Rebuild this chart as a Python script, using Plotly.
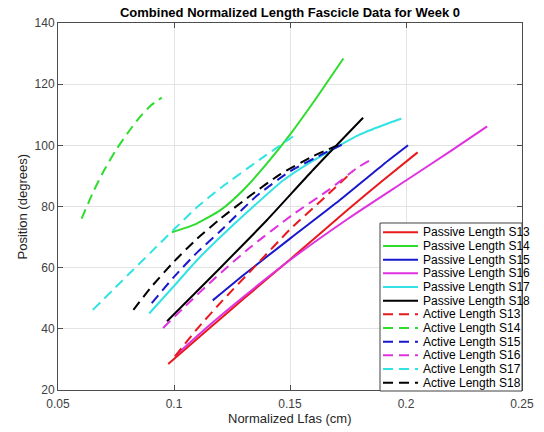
import plotly.graph_objects as go

# ---- data ----
series_names = ["Passive Length S13", "Passive Length S14", "Passive Length S15",
                "Passive Length S16", "Passive Length S17", "Passive Length S18",
                "Active Length S13", "Active Length S14", "Active Length S15",
                "Active Length S16", "Active Length S17", "Active Length S18"]

p13_x = [0.0975, 0.115, 0.13, 0.15, 0.175, 0.19, 0.205]
p13_y = [28.5, 40, 49.8, 62.7, 79, 88.5, 97.7]
p14_x = [0.0991, 0.105, 0.11, 0.12, 0.13, 0.14, 0.15, 0.16, 0.173]
p14_y = [71.6, 73, 74.5, 78.8, 85.5, 94, 103.5, 114, 128.4]
p15_x = [0.1167, 0.13, 0.15, 0.17, 0.19, 0.2009]
p15_y = [49.3, 57.6, 69.5, 81.2, 93.6, 100]
p16_x = [0.101, 0.115, 0.13, 0.15, 0.175, 0.2, 0.22, 0.235]
p16_y = [31.5, 41, 50.5, 62.5, 76, 88.5, 98.5, 106.2]
p17_x = [0.0893, 0.1, 0.11, 0.12, 0.1328, 0.147, 0.16, 0.18, 0.193, 0.198]
p17_y = [45, 54, 62.5, 70, 79, 88.5, 95, 103.5, 107.4, 108.7]
p18_x = [0.097, 0.12, 0.14, 0.16, 0.1815]
p18_y = [42.5, 60, 75.5, 92, 109]

a13_x = [0.1004, 0.11, 0.12, 0.135, 0.15, 0.165, 0.177]
a13_y = [31, 40, 48.5, 60.5, 72.5, 83, 91.5]
a14_x = [0.0602, 0.065, 0.07, 0.075, 0.08, 0.085, 0.09, 0.0947]
a14_y = [76, 84.5, 92, 98.5, 104, 109, 113, 115.6]
a15_x = [0.0904, 0.1, 0.11, 0.12, 0.1357, 0.15, 0.165, 0.1745]
a15_y = [48.4, 57, 65, 72, 83.5, 91.5, 97.5, 101]
a16_x = [0.0953, 0.105, 0.1168, 0.1328, 0.1513, 0.167, 0.1793, 0.1848]
a16_y = [40.3, 47.5, 56, 66.6, 77.4, 85.6, 92.8, 95.2]
a17_x = [0.065, 0.08, 0.09, 0.0997, 0.11, 0.12, 0.1371, 0.1536]
a17_y = [46.2, 57.5, 65, 72.3, 79.8, 86, 95.4, 104.1]
a18_x = [0.0825, 0.09, 0.1, 0.11, 0.12, 0.1328, 0.1457, 0.16, 0.173]
a18_y = [46.2, 53.5, 62, 69.5, 76, 83.5, 90.5, 96.5, 100.8]

xs = [p13_x, p14_x, p15_x, p16_x, p17_x, p18_x, a13_x, a14_x, a15_x, a16_x, a17_x, a18_x]
ys = [p13_y, p14_y, p15_y, p16_y, p17_y, p18_y, a13_y, a14_y, a15_y, a16_y, a17_y, a18_y]

x_ticks = [0.05, 0.1, 0.15, 0.2, 0.25]
x_tick_labels = ["0.05", "0.1", "0.15", "0.2", "0.25"]
y_ticks = [20, 40, 60, 80, 100, 120, 140]

title_text = "Combined Normalized Length Fascicle Data for Week 0"
x_title = "Normalized Lfas (cm)"
y_title = "Position (degrees)"

# ---- styles ----
base_colors = ["#E8191C", "#2EDC2E", "#1818CC", "#E031E0", "#33E3E3", "#000000"]
colors = base_colors + base_colors
DASH = "10px,6px"
dashes = ["solid"] * 6 + [DASH] * 6
FONT = "Liberation Sans, Arial, sans-serif"

fig = go.Figure()
for name, x, y, c, d in zip(series_names, xs, ys, colors, dashes):
    fig.add_trace(go.Scatter(x=x, y=y, mode="lines", name=name, showlegend=False,
                             line=dict(color=c, width=2, dash=d, shape="spline", smoothing=0.6)))

W, H = 544, 432
L, R, T, B = 58, 22, 23, 42
PW, PH = W - L - R, H - T - B

def px2paper_x(px):
    return (px - L) / PW

def px2paper_y(py):
    return (H - B - py) / PH

shapes = []
annotations = []
# legend box
shapes.append(dict(type="rect", xref="paper", yref="paper",
                   x0=px2paper_x(380), x1=px2paper_x(522), y0=px2paper_y(391), y1=px2paper_y(223),
                   line=dict(color="#404040", width=1), fillcolor="white", layer="above"))
for i, (name, c, d) in enumerate(zip(series_names, colors, dashes)):
    cy = 232.3 + i * 13.67
    shapes.append(dict(type="line", xref="paper", yref="paper",
                       x0=px2paper_x(383), x1=px2paper_x(418),
                       y0=px2paper_y(cy), y1=px2paper_y(cy),
                       line=dict(color=c, width=2, dash=d), layer="above"))
    annotations.append(dict(xref="paper", yref="paper", x=px2paper_x(421), y=px2paper_y(cy),
                            text=name, showarrow=False, xanchor="left", yanchor="middle",
                            font=dict(family=FONT, size=12, color="#000000")))

# axis titles
annotations.append(dict(xref="paper", yref="paper", x=0.5, y=px2paper_y(418),
                        text=x_title, showarrow=False, xanchor="center", yanchor="middle",
                        font=dict(family=FONT, size=13, color="#262626")))
annotations.append(dict(xref="paper", yref="paper", x=px2paper_x(22), y=0.5,
                        text=y_title, showarrow=False, xanchor="center", yanchor="middle",
                        textangle=-90,
                        font=dict(family=FONT, size=13, color="#262626")))

axis_common = dict(showgrid=True, gridcolor="#E3E3E3", gridwidth=1, zeroline=False,
                   showline=True, linecolor="#4D4D4D", linewidth=1, mirror="ticks",
                   ticks="inside", ticklen=5, tickcolor="#4D4D4D", automargin=False,
                   tickfont=dict(family=FONT, size=12, color="#404040"))

fig.update_layout(
    width=W, height=H,
    margin=dict(l=L, r=R, t=T, b=B),
    paper_bgcolor="white", plot_bgcolor="white",
    title=dict(text="<b>" + title_text + "</b>",
               x=0.5, xref="paper", y=1 - 12 / H, yref="container", yanchor="middle",
               font=dict(family=FONT, size=13, color="#000000")),
    xaxis=dict(range=[0.05, 0.25], tickvals=x_ticks, ticktext=x_tick_labels,
               ticklabelstandoff=3, **axis_common),
    yaxis=dict(range=[20, 140], tickvals=y_ticks, **axis_common),
    shapes=shapes, annotations=annotations,
    showlegend=False,
)

fig.write_html("out.html")
